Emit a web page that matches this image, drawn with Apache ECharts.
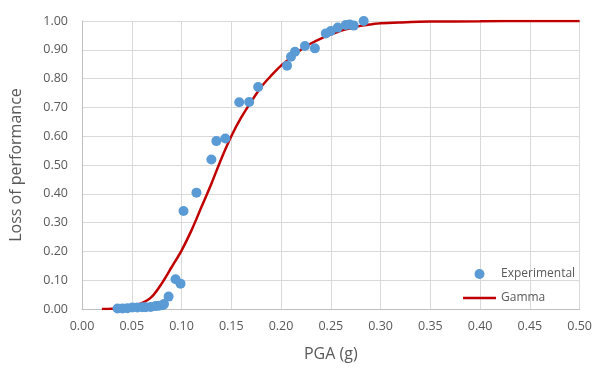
<!DOCTYPE html>
<html>
<head>
<meta charset="utf-8">
<script src="https://cdn.jsdelivr.net/npm/echarts@6/dist/echarts.min.js"></script>
<style>
  html, body { margin: 0; padding: 0; background: #fff; }
  #chart { width: 595px; height: 369px; }
</style>
</head>
<body>
<div id="chart"></div>
<script>
// experimental points (PGA, loss)
var expPGA = [0.0357, 0.0407, 0.0457, 0.0507, 0.0557, 0.0607, 0.064, 0.069, 0.074, 0.0774, 0.081, 0.0824,
  0.087, 0.094, 0.099, 0.102, 0.115, 0.130, 0.135, 0.144, 0.158, 0.168, 0.177,
  0.206, 0.210, 0.214, 0.224, 0.234, 0.245, 0.250, 0.257, 0.265, 0.269, 0.273, 0.283];
var expLoss = [0.002, 0.002, 0.003, 0.005, 0.005, 0.006, 0.006, 0.007, 0.010, 0.011, 0.013, 0.017,
  0.043, 0.103, 0.088, 0.340, 0.404, 0.519, 0.583, 0.592, 0.718, 0.719, 0.771,
  0.845, 0.876, 0.893, 0.913, 0.905, 0.957, 0.965, 0.977, 0.986, 0.988, 0.984, 1.000];

// fitted gamma curve
var gammaPGA = [0.02, 0.03, 0.04, 0.05, 0.06, 0.07, 0.08, 0.09, 0.10, 0.11, 0.12, 0.13, 0.14, 0.15,
  0.16, 0.17, 0.18, 0.19, 0.20, 0.21, 0.22, 0.23, 0.24, 0.25, 0.26, 0.27, 0.28, 0.29, 0.30,
  0.32, 0.35, 0.40, 0.45, 0.50];
var gammaLoss = [0.000, 0.001, 0.003, 0.008, 0.020, 0.042, 0.088, 0.145, 0.203, 0.273, 0.354, 0.435, 0.522, 0.600,
  0.665, 0.720, 0.771, 0.810, 0.845, 0.873, 0.900, 0.922, 0.939, 0.953, 0.966, 0.975, 0.983, 0.988, 0.992,
  0.995, 0.998, 0.999, 1.000, 1.000];

var chart = echarts.init(document.getElementById('chart'));

function pairs(xs, ys) {
  var out = [];
  for (var i = 0; i < xs.length; i++) out.push([xs[i], ys[i]]);
  return out;
}

var fnt = 'Open Sans';
var grey = '#595959';
// thin bar in a 10px high box, so the legend shows a plain line
var lineIcon = 'path://M0,0L0,0M0,3.6L35,3.6L35,6.4L0,6.4ZM0,10L0,10';

chart.setOption({
  animation: false,
  textStyle: { fontFamily: fnt },
  grid: { left: 81, right: 13, top: 21, bottom: 60 },
  legend: {
    orient: 'vertical',
    left: 458, top: 263,
    itemWidth: 33, itemHeight: 10, itemGap: 12,
    textStyle: { color: grey, fontSize: 12, fontFamily: fnt },
    data: [{ name: 'Experimental', icon: 'circle' }, { name: 'Gamma', icon: lineIcon }]
  },
  xAxis: {
    type: 'value', min: 0, max: 0.5, interval: 0.05,
    name: 'PGA (g)', nameLocation: 'middle', nameGap: 37,
    nameTextStyle: { color: grey, fontSize: 16, fontFamily: fnt },
    axisLine: { show: true, lineStyle: { color: '#bfbfbf' } },
    axisTick: { show: false },
    axisLabel: { color: grey, fontSize: 12.5, margin: 11, formatter: function (v) { return v.toFixed(2); } },
    splitLine: { show: true, lineStyle: { color: '#d9d9d9' } }
  },
  yAxis: {
    type: 'value', min: 0, max: 1, interval: 0.1,
    name: 'Loss of performance', nameLocation: 'middle', nameGap: 58,
    nameTextStyle: { color: grey, fontSize: 16, fontFamily: fnt },
    axisLine: { show: true, lineStyle: { color: '#bfbfbf' } },
    axisTick: { show: false },
    axisLabel: { color: grey, fontSize: 12.5, margin: 14, formatter: function (v) { return v.toFixed(2); } },
    splitLine: { show: true, lineStyle: { color: '#d9d9d9' } }
  },
  series: [
    {
      name: 'Experimental',
      type: 'scatter',
      symbolSize: 10,
      itemStyle: { color: '#5b9bd5', opacity: 1 },
      data: pairs(expPGA, expLoss),
      z: 3
    },
    {
      name: 'Gamma',
      type: 'line',
      smooth: 0.3,
      symbol: 'none',
      lineStyle: { color: '#c00000', width: 2.5 },
      itemStyle: { color: '#c00000' },
      data: pairs(gammaPGA, gammaLoss),
      z: 2
    }
  ]
});
</script>
</body>
</html>
